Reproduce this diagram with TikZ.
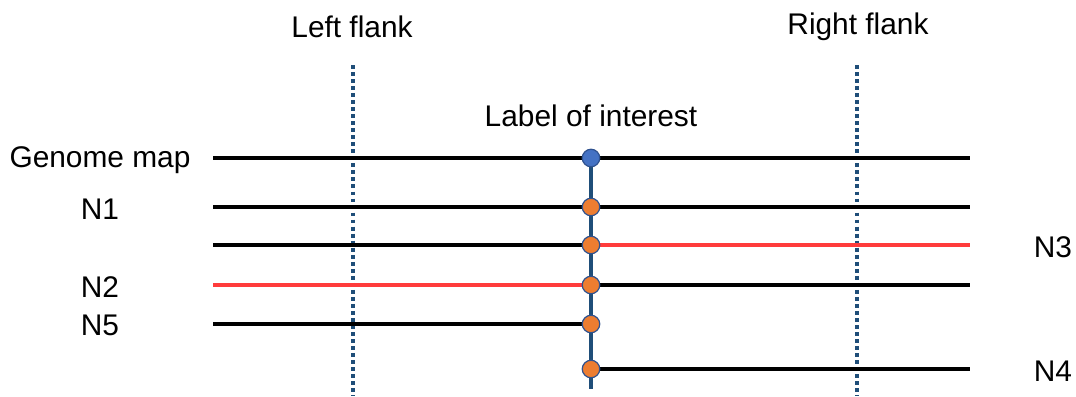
\documentclass[tikz,border=0pt]{standalone}
\usepackage{fontspec}
\setmainfont{Liberation Sans}
\definecolor{blueline}{HTML}{1F4E79}
\definecolor{dotblue}{HTML}{4472C4}
\definecolor{dotorange}{HTML}{ED7D31}
\definecolor{rim}{HTML}{2F528F}
\definecolor{redline}{HTML}{FF3B3B}

\begin{document}
\begin{tikzpicture}[x=0.02cm,y=-0.02cm,
  lab/.style={font=\fontsize{17}{20}\selectfont},
  row/.style={line width=2.2pt,black},
  hit/.style={row,redline},
  flank/.style={line width=2.2pt,blueline,dash pattern=on 2.2pt off 1.8pt},
  pin/.style={circle,draw=rim,line width=0.7pt,fill=dotorange,minimum size=0.35cm,inner sep=0pt}]

\useasboundingbox (0,0) rectangle (1076,396);

% labels
\node [lab] (lf) at (352,27) {Left flank};
\node [lab] (rf) at (858,27) {Right flank};
\node [lab] (li) at (591,116) {Label of interest};
\node [lab] (gm) at (100,160) {Genome map};
\node [lab] (n1) at (100,209) {N1};
\node [lab] (n2) at (100,287) {N2};
\node [lab] (n5) at (100,325) {N5};
\node [lab] (n3) at (1053,247) {N3};
\node [lab] (n4) at (1053,371) {N4};

% flanks
\coordinate (lft) at (353,65);  \coordinate (lfb) at (353,396);
\coordinate (rft) at (857,65);  \coordinate (rfb) at (857,396);
\draw [flank] (lft) -- (lfb);
\draw [flank] (rft) -- (rfb);

% row ends
\foreach \n/\y in {a/158,b/207,c/245,d/285,e/324,f/369}{
  \coordinate (\n l) at (213,\y);
  \coordinate (\n m) at (591,\y);
  \coordinate (\n r) at (970,\y);
}

\draw [row] (al) -- (ar);
\draw [row] (bl) -- (br);
\draw [row] (cl) -- (cm);  \draw [hit] (cm) -- (cr);
\draw [hit] (dl) -- (dm);  \draw [row] (dm) -- (dr);
\draw [row] (el) -- (em);
\draw [row] (fm) -- (fr);

% vertical line and dots
\coordinate (vend) at (591,389);
\draw [line width=2.8pt,blueline] (am) -- (vend);
\node [pin,fill=dotblue] (g) at (am) {};
\foreach \n in {b,c,d,e,f}
  \node [pin] (p\n) at (\n m) {};
\end{tikzpicture}
\end{document}
